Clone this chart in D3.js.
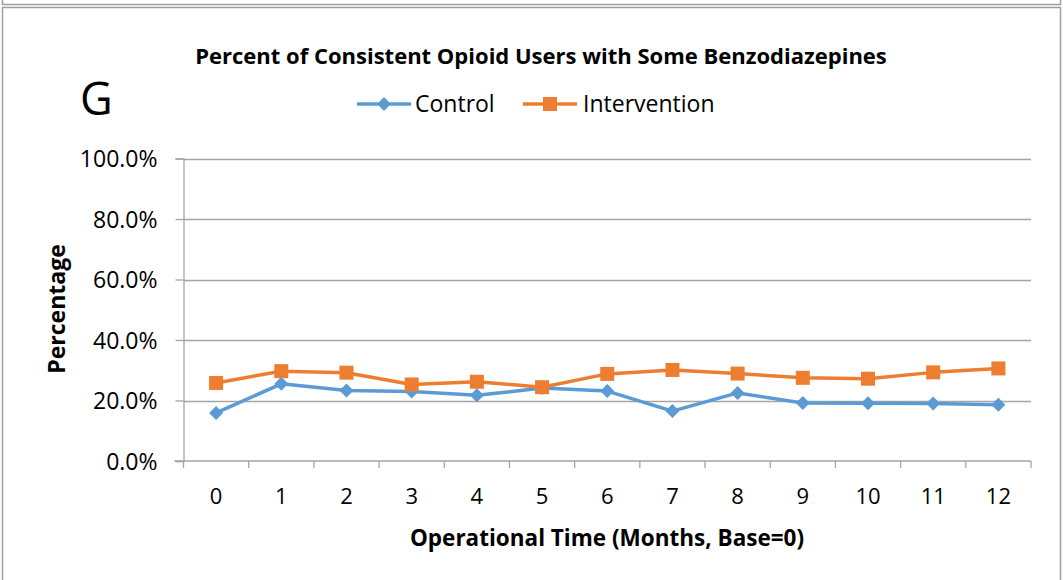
<!DOCTYPE html>
<html lang="en">
<head>
    <meta charset="UTF-8">
    <title>Percent of Consistent Opioid Users with Some Benzodiazepines</title>
    <script src="https://d3js.org/d3.v7.min.js"></script>
    <style>
        body { margin: 0; background: #fff; }
        svg text { font-family: "Open Sans", "Noto Sans", sans-serif; fill: #000; }
    </style>
</head>
<body>
    <div id="chart"></div>

    <script>
        // Data
        const months = ["0", "1", "2", "3", "4", "5", "6", "7", "8", "9", "10", "11", "12"];
        const control = [0.159, 0.255, 0.233, 0.230, 0.217, 0.241, 0.231, 0.165, 0.225, 0.192, 0.191, 0.190, 0.186];
        const intervention = [0.258, 0.297, 0.292, 0.253, 0.262, 0.244, 0.288, 0.301, 0.289, 0.275, 0.272, 0.293, 0.306];
        const yTicks = [0, 0.2, 0.4, 0.6, 0.8, 1.0];

        const W = 1063, H = 580;
        const plot = { left: 183.5, right: 1031, top: 158.5, bottom: 461 };
        const gridColor = "#A5A5A5";

        const svg = d3.select("#chart")
            .append("svg")
            .attr("width", W)
            .attr("height", H);

        // frames (previous box edge + chart box)
        svg.append("path")
            .attr("d", `M2.5,0 V4.5 H1060.5 V0`)
            .attr("fill", "none").attr("stroke", "#A0A0A0").attr("stroke-width", 1.5);
        svg.append("rect")
            .attr("x", 2.5).attr("y", 7.5)
            .attr("width", 1058).attr("height", 600)
            .attr("fill", "#fff").attr("stroke", "#A0A0A0").attr("stroke-width", 1.5);

        // scales
        const x = d3.scaleBand()
            .domain(months)
            .range([plot.left, plot.right]);

        const y = d3.scaleLinear()
            .domain([0, 1])
            .range([plot.bottom, plot.top]);

        // grid lines
        svg.append("g")
            .selectAll("line")
            .data(yTicks.filter(d => d > 0))
            .join("line")
            .attr("x1", plot.left)
            .attr("x2", plot.right)
            .attr("y1", d => Math.round(y(d)) + 0.5)
            .attr("y2", d => Math.round(y(d)) + 0.5)
            .attr("stroke", gridColor)
            .attr("stroke-width", 1.3);

        // Y axis
        svg.append("g")
            .attr("transform", `translate(${plot.left},0)`)
            .call(d3.axisLeft(y)
                .tickValues(yTicks)
                .tickSize(8)
                .tickPadding(18)
                .tickFormat(d3.format(".1%")))
            .call(g => g.select(".domain").attr("stroke", gridColor).attr("stroke-width", 1.3))
            .call(g => g.selectAll(".tick line").attr("stroke", gridColor).attr("stroke-width", 1.3))
            .call(g => g.selectAll(".tick text")
                .attr("font-size", "23px")
                .attr("dy", "0.36em"));

        // X axis: ticks on band edges
        const xAxis = svg.append("g")
            .attr("transform", `translate(0,${plot.bottom})`);
        xAxis.append("line")
            .attr("x1", plot.left - 9).attr("x2", plot.right)
            .attr("stroke", gridColor).attr("stroke-width", 1.3);
        xAxis.selectAll(".edge")
            .data(months.concat(["end"]))
            .join("line")
            .attr("class", "edge")
            .attr("x1", (d, i) => i < months.length ? x(d) : x(months[months.length - 1]) + x.bandwidth())
            .attr("x2", (d, i) => i < months.length ? x(d) : x(months[months.length - 1]) + x.bandwidth())
            .attr("y1", 0).attr("y2", 7)
            .attr("stroke", gridColor).attr("stroke-width", 1.3);
        xAxis.selectAll(".lbl")
            .data(months)
            .join("text")
            .attr("class", "lbl")
            .attr("x", d => x(d) + x.bandwidth() / 2)
            .attr("y", 43)
            .attr("text-anchor", "middle")
            .attr("font-size", "22px")
            .text(d => d);

        // series
        const series = [
            { name: "Control", values: control, color: "#5B9BD5", marker: "diamond" },
            { name: "Intervention", values: intervention, color: "#ED7D31", marker: "square" }
        ];

        const line = d3.line()
            .x((d, i) => x(months[i]) + x.bandwidth() / 2)
            .y(d => y(d));

        function drawMarker(g, type, color) {
            if (type === "diamond") {
                g.append("path")
                    .attr("d", "M0,-7 L7,0 L0,7 L-7,0 Z")
                    .attr("fill", color);
            } else {
                g.append("rect")
                    .attr("x", -7).attr("y", -7)
                    .attr("width", 14).attr("height", 14)
                    .attr("fill", color);
            }
        }

        series.forEach(s => {
            svg.append("path")
                .datum(s.values)
                .attr("d", line)
                .attr("fill", "none")
                .attr("stroke", s.color)
                .attr("stroke-width", 3.5)
                .attr("stroke-linejoin", "round");

            s.values.forEach((v, i) => {
                const g = svg.append("g")
                    .attr("transform", `translate(${x(months[i]) + x.bandwidth() / 2},${y(v)})`);
                drawMarker(g, s.marker, s.color);
            });
        });

        // title
        svg.append("text")
            .attr("x", 541).attr("y", 64)
            .attr("text-anchor", "middle")
            .attr("font-size", "22px")
            .attr("font-weight", "bold")
            .text("Percent of Consistent Opioid Users with Some Benzodiazepines");

        // panel letter
        svg.append("text")
            .attr("x", 80).attr("y", 115)
            .attr("font-size", "45px")
            .text("G");

        // legend
        const legendItems = [
            { s: series[0], x0: 357, tx: 415 },
            { s: series[1], x0: 523, tx: 583 }
        ];
        legendItems.forEach(item => {
            const g = svg.append("g");
            g.append("line")
                .attr("x1", item.x0).attr("x2", item.x0 + 54)
                .attr("y1", 104).attr("y2", 104)
                .attr("stroke", item.s.color).attr("stroke-width", 3.5);
            const m = g.append("g").attr("transform", `translate(${item.x0 + 27},104)`);
            drawMarker(m, item.s.marker, item.s.color);
            g.append("text")
                .attr("x", item.tx).attr("y", 112)
                .attr("font-size", "23px")
                .text(item.s.name);
        });

        // axis titles
        svg.append("text")
            .attr("x", 607).attr("y", 546)
            .attr("text-anchor", "middle")
            .attr("font-size", "22.5px")
            .attr("font-weight", "bold")
            .text("Operational Time (Months, Base=0)");

        svg.append("text")
            .attr("transform", "translate(65,309) rotate(-90)")
            .attr("text-anchor", "middle")
            .attr("font-size", "23px")
            .attr("font-weight", "bold")
            .text("Percentage");
    </script>
</body>
</html>
